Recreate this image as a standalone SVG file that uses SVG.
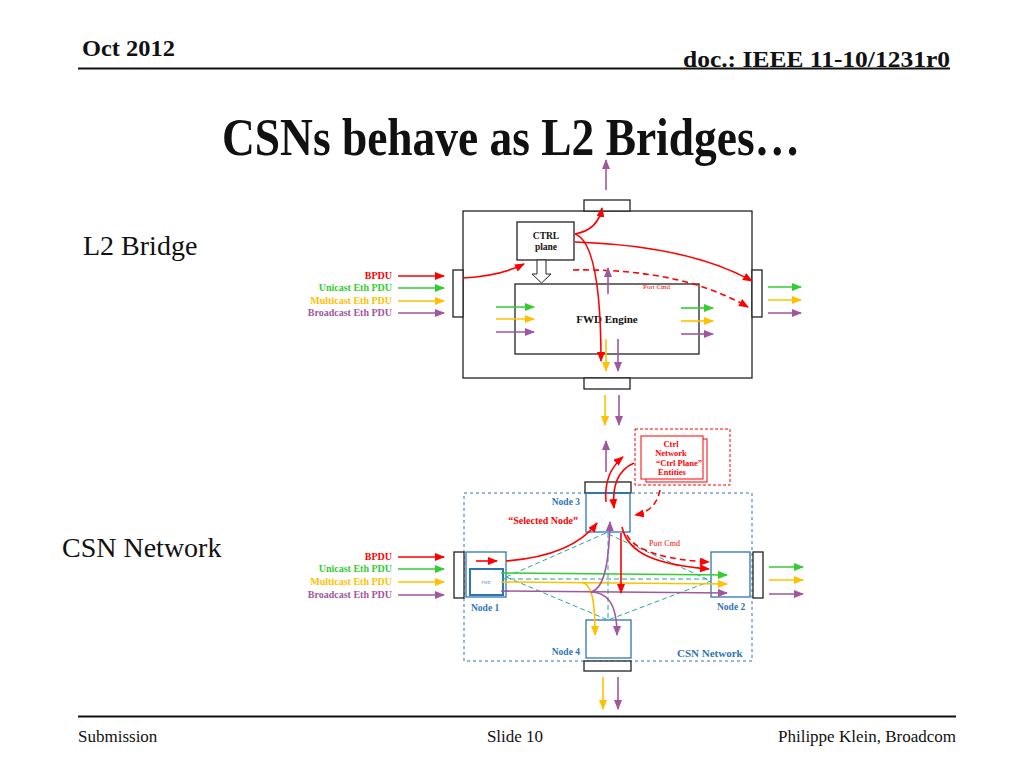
<svg xmlns="http://www.w3.org/2000/svg" width="1024" height="768" viewBox="0 0 1024 768">
<style>
.serif{font-family:"Liberation Serif","Times New Roman",serif}
.b{font-weight:bold}
.box{fill:#fff;stroke:#222;stroke-width:1.3}
.nbox{fill:#fff;stroke:#2e75b6;stroke-width:1.3}
.red{stroke:#ff0000;fill:none;stroke-width:1.6}
.grn{stroke:#33cc33;fill:none;stroke-width:1.6}
.yel{stroke:#ffc000;fill:none;stroke-width:1.6}
.pur{stroke:#a0579e;fill:none;stroke-width:1.6}
.tea{stroke:#20a8a0;fill:none;stroke-width:1;stroke-dasharray:5,3}
.dash{stroke-dasharray:6,4}
.lr{fill:#ff0000}.lg{fill:#33cc33}.ly{fill:#ffc000}.lp{fill:#a0579e}.lb{fill:#2e75b6}
</style>
<defs>
<marker id="ar" markerUnits="userSpaceOnUse" markerWidth="10" markerHeight="8" refX="9" refY="4" orient="auto"><path d="M0,0 L10,4 L0,8 z" fill="#ff0000"/></marker>
<marker id="ag" markerUnits="userSpaceOnUse" markerWidth="10" markerHeight="8" refX="9" refY="4" orient="auto"><path d="M0,0 L10,4 L0,8 z" fill="#33cc33"/></marker>
<marker id="ay" markerUnits="userSpaceOnUse" markerWidth="10" markerHeight="8" refX="9" refY="4" orient="auto"><path d="M0,0 L10,4 L0,8 z" fill="#ffc000"/></marker>
<marker id="ap" markerUnits="userSpaceOnUse" markerWidth="10" markerHeight="8" refX="9" refY="4" orient="auto"><path d="M0,0 L10,4 L0,8 z" fill="#a0579e"/></marker>
</defs>
<rect width="1024" height="768" fill="#fff"/>

<g id="header">
<text x="82" y="56" class="serif b" font-size="23" fill="#111" textLength="93" lengthAdjust="spacingAndGlyphs">Oct 2012</text>
<text x="950" y="67" class="serif b" font-size="23" fill="#111" text-anchor="end" textLength="267" lengthAdjust="spacingAndGlyphs">doc.: IEEE 11-10/1231r0</text>
<line x1="78" y1="68.5" x2="950" y2="68.5" stroke="#111" stroke-width="2"/>
<text x="222" y="155" class="serif b" font-size="52" fill="#111" textLength="578" lengthAdjust="spacingAndGlyphs">CSNs behave as L2 Bridges…</text>
</g>

<g id="footer">
<line x1="78" y1="716.5" x2="956" y2="716.5" stroke="#111" stroke-width="2"/>
<text x="78" y="742" class="serif" font-size="17" fill="#111">Submission</text>
<text x="515" y="742" class="serif" font-size="17" fill="#111" text-anchor="middle">Slide 10</text>
<text x="956" y="742" class="serif" font-size="17" fill="#111" text-anchor="end">Philippe Klein, Broadcom</text>
</g>

<g id="section-labels">
<text x="83" y="255" class="serif" font-size="28" fill="#111">L2 Bridge</text>
<text x="62" y="557" class="serif" font-size="28" fill="#111">CSN Network</text>
</g>

<g id="bridge">
<rect x="463" y="211" width="289" height="167" class="box"/>
<rect x="584" y="200" width="46" height="11" class="box"/>
<rect x="584" y="378" width="46" height="11" class="box"/>
<rect x="453" y="270" width="10" height="47" class="box"/>
<rect x="752" y="270" width="10" height="47" class="box"/>
</g>
<g id="ctrl-plane">
<rect x="517" y="222" width="57" height="38" class="box"/>
<text x="546" y="239" class="serif b" font-size="9.5" fill="#111" text-anchor="middle">CTRL</text>
<text x="546" y="250" class="serif b" font-size="9.5" fill="#111" text-anchor="middle">plane</text>
<polygon points="537,260 546,260 546,274 551,274 541.5,283 532,274 537,274" fill="#fff" stroke="#222" stroke-width="1"/>
</g>
<g id="fwd-engine">
<rect x="515" y="284" width="184" height="70" class="box"/>
<text x="607" y="323" class="serif b" font-size="11" fill="#111" text-anchor="middle">FWD Engine</text>
</g>

<g id="bridge-labels" class="serif b" font-size="10" text-anchor="end">
<text x="392" y="279" class="lr">BPDU</text>
<text x="392" y="291" class="lg">Unicast Eth PDU</text>
<text x="392" y="304" class="ly">Multicast Eth PDU</text>
<text x="392" y="316" class="lp">Broadcast Eth PDU</text>
<text x="643" y="289" class="lr" font-weight="normal" font-size="7" text-anchor="start">Port Cmd</text>
</g>

<g id="csn-labels" class="serif b" font-size="10" text-anchor="end">
<text x="392" y="560" class="lr">BPDU</text>
<text x="392" y="572" class="lg">Unicast Eth PDU</text>
<text x="392" y="585" class="ly">Multicast Eth PDU</text>
<text x="392" y="598" class="lp">Broadcast Eth PDU</text>
</g>

<g id="csn-network">
<rect x="464" y="493" width="288" height="168" fill="none" stroke="#2e75b6" stroke-width="1" stroke-dasharray="3,3"/>
<text x="677" y="657" class="serif b lb" font-size="11">CSN Network</text>
</g>

<g id="ctrl-network">
<rect x="635" y="429" width="95" height="56" fill="none" stroke="#ff0000" stroke-width="1" stroke-dasharray="3,2"/>
<rect x="646" y="439" width="61" height="43" fill="#fff" stroke="#ff0000" stroke-width="1"/>
<rect x="641" y="436" width="62" height="43" fill="#fff" stroke="#ff0000" stroke-width="1"/>
<g class="serif b lr" font-size="8.5">
<text x="671" y="447" text-anchor="middle">Ctrl</text>
<text x="671" y="456" text-anchor="middle">Network</text>
<text x="656" y="466">“Ctrl Plane”</text>
<text x="672" y="475" text-anchor="middle">Entities</text>
</g>
</g>

<g id="node3">
<rect x="585" y="482" width="46" height="11" class="box"/>
<rect x="586" y="493" width="44" height="39" class="nbox"/>
<line x1="586" y1="493" x2="630" y2="493" stroke="#2e75b6" stroke-width="2"/>
<text x="580" y="505" class="serif b lb" font-size="9.5" text-anchor="end">Node 3</text>
<text x="578" y="524" class="serif b lr" font-size="10" text-anchor="end">“Selected Node”</text>
</g>
<g id="node1">
<rect x="454" y="552" width="10" height="46" class="box"/>
<rect x="466" y="552" width="40" height="45" class="nbox"/>
<rect x="470" y="569" width="33" height="26" fill="#fff" stroke="#2e75b6" stroke-width="2"/>
<text x="486" y="584" class="serif lb" font-size="4" text-anchor="middle">FWD</text>
<text x="471" y="611" class="serif b lb" font-size="9.5">Node 1</text>
</g>
<g id="node2">
<rect x="711" y="552" width="39" height="45" class="nbox"/>
<rect x="753" y="552" width="10" height="46" class="box"/>
<text x="717" y="610" class="serif b lb" font-size="9.5">Node 2</text>
</g>
<g id="node4">
<rect x="586" y="620" width="45" height="38" class="nbox"/>
<rect x="584" y="661" width="47" height="10" class="box"/>
<text x="580" y="655" class="serif b lb" font-size="9.5" text-anchor="end">Node 4</text>
</g>
<text x="649" y="546" class="serif lr" font-size="8">Port Cmd</text>

<g id="connectors">
<path d="M606,190 L606,160" class="pur" marker-end="url(#ap)"/>
<path d="M398,276 L444,276" class="red" marker-end="url(#ar)"/>
<path d="M398,288 L444,288" class="grn" marker-end="url(#ag)"/>
<path d="M398,301 L444,301" class="yel" marker-end="url(#ay)"/>
<path d="M398,313 L444,313" class="pur" marker-end="url(#ap)"/>
<path d="M463,278 Q500,276 524,264" class="red" marker-end="url(#ar)"/>
<path d="M575,234 Q598,230 602,208" class="red" marker-end="url(#ar)"/>
<path d="M575,242 Q690,246 752,281" class="red" marker-end="url(#ar)"/>
<path d="M575,234 C592,240 601,280 601,361" class="red" marker-end="url(#ar)"/>
<path d="M573,270 Q680,268 748,307" class="red dash" marker-end="url(#ar)"/>
<path d="M608,294 L608,268" class="pur" marker-end="url(#ap)"/>
<path d="M496,307 L534,307" class="grn" marker-end="url(#ag)"/>
<path d="M496,319 L534,319" class="yel" marker-end="url(#ay)"/>
<path d="M496,332 L534,332" class="pur" marker-end="url(#ap)"/>
<path d="M681,308 L713,308" class="grn" marker-end="url(#ag)"/>
<path d="M681,321 L713,321" class="yel" marker-end="url(#ay)"/>
<path d="M681,334 L713,334" class="pur" marker-end="url(#ap)"/>
<path d="M606,339 L606,371" class="yel" marker-end="url(#ay)"/>
<path d="M618,339 L618,371" class="pur" marker-end="url(#ap)"/>
<path d="M768,287 L801,287" class="grn" marker-end="url(#ag)"/>
<path d="M768,300 L801,300" class="yel" marker-end="url(#ay)"/>
<path d="M768,313 L801,313" class="pur" marker-end="url(#ap)"/>
<path d="M605,395 L605,425" class="yel" marker-end="url(#ay)"/>
<path d="M619,395 L619,425" class="pur" marker-end="url(#ap)"/>
<path d="M606,472 L606,441" class="pur" marker-end="url(#ap)"/>
<path d="M606,502 C604,480 612,466 623,457" class="red" marker-end="url(#ar)"/>
<path d="M634,463 C618,470 612,486 614,508" class="red" marker-end="url(#ar)"/>
<path d="M660,490 Q656,511 635,515" class="red dash" marker-end="url(#ar)"/>
<path d="M398,557 L444,557" class="red" marker-end="url(#ar)"/>
<path d="M398,569 L444,569" class="grn" marker-end="url(#ag)"/>
<path d="M398,582 L444,582" class="yel" marker-end="url(#ay)"/>
<path d="M398,595 L444,595" class="pur" marker-end="url(#ap)"/>
<path d="M506,577 L606,533 L711,581 L608,620 Z" class="tea"/>
<path d="M502,579 L711,579" class="tea"/>
<path d="M608,533 L608,620" class="tea"/>
<path d="M476,561 L497,561" class="red" marker-end="url(#ar)"/>
<path d="M506,561 Q572,556 597,523" class="red" marker-end="url(#ar)"/>
<path d="M501,573 L727,575" class="grn" marker-end="url(#ag)"/>
<path d="M501,582 L727,584" class="yel" marker-end="url(#ay)"/>
<path d="M501,591 L727,593" class="pur" marker-end="url(#ap)"/>
<path d="M590,592 C605,590 609,560 610,522" class="pur" marker-end="url(#ap)"/>
<path d="M621,533 L621,593" class="red" marker-end="url(#ar)"/>
<path d="M622,527 C628,555 660,565 709,569" class="red" marker-end="url(#ar)"/>
<path d="M627,535 C635,552 670,560 709,562" class="red dash" marker-end="url(#ar)"/>
<path d="M582,582 C592,585 595,600 595,635" class="yel" marker-end="url(#ay)"/>
<path d="M590,592 C605,592 617,600 617,635" class="pur" marker-end="url(#ap)"/>
<path d="M769,567 L803,567" class="grn" marker-end="url(#ag)"/>
<path d="M769,580 L803,580" class="yel" marker-end="url(#ay)"/>
<path d="M769,594 L803,594" class="pur" marker-end="url(#ap)"/>
<path d="M603,677 L603,709" class="yel" marker-end="url(#ay)"/>
<path d="M618,677 L618,709" class="pur" marker-end="url(#ap)"/>
</g>
</svg>
